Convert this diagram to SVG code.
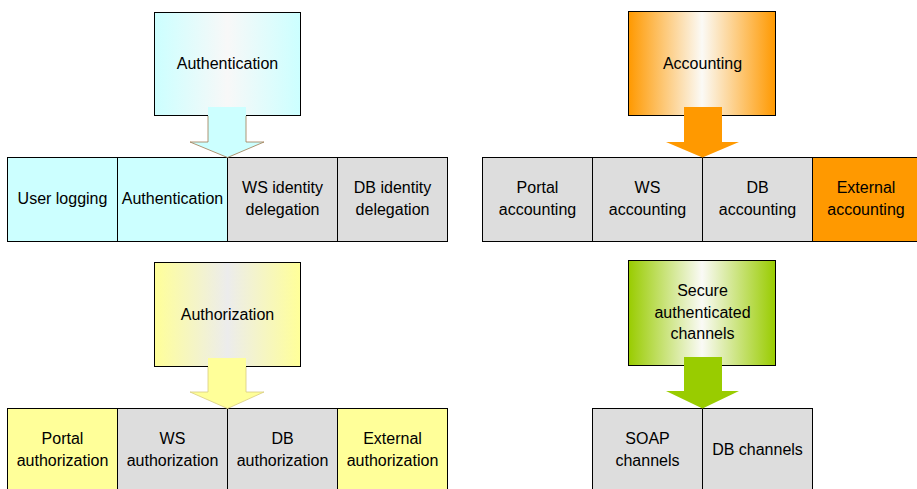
<svg xmlns="http://www.w3.org/2000/svg" width="917" height="489" viewBox="0 0 917 489">
  <defs>
    <linearGradient id="gCyan" x1="0" y1="0" x2="1" y2="0">
      <stop offset="0" stop-color="#ccffff"/>
      <stop offset="0.5" stop-color="#f8f8f8"/>
      <stop offset="1" stop-color="#ccffff"/>
    </linearGradient>
    <linearGradient id="gOrange" x1="0" y1="0" x2="1" y2="0">
      <stop offset="0" stop-color="#ff9900"/>
      <stop offset="0.5" stop-color="#fbfaf6"/>
      <stop offset="1" stop-color="#ff9900"/>
    </linearGradient>
    <linearGradient id="gYellow" x1="0" y1="0" x2="1" y2="0">
      <stop offset="0" stop-color="#ffff99"/>
      <stop offset="0.5" stop-color="#ececec"/>
      <stop offset="1" stop-color="#ffff99"/>
    </linearGradient>
    <linearGradient id="gGreen" x1="0" y1="0" x2="1" y2="0">
      <stop offset="0" stop-color="#99cc00"/>
      <stop offset="0.5" stop-color="#fafaf6"/>
      <stop offset="1" stop-color="#99cc00"/>
    </linearGradient>
  </defs>
  <style>
    text { font-family: "Liberation Sans", Arial, sans-serif; font-size: 16px; fill: #000; text-anchor: middle; }
    .box { stroke: #000; stroke-width: 1; }
    .cell { stroke: #000; stroke-width: 1; }
    .grey { fill: #dddddd; }
    .cyan { fill: #ccffff; }
    .orange { fill: #ff9900; }
    .yellow { fill: #ffff99; }
  </style>
  <rect width="917" height="489" fill="#ffffff"/>

  <!-- Authentication block -->
  <g id="authentication">
    <rect class="box" x="154.5" y="12.5" width="146" height="103" fill="url(#gCyan)"/>
    <text x="227.5" y="69">Authentication</text>
  </g>
  <g id="authentication-row">
    <rect class="cell cyan" x="7.5" y="157.5" width="110" height="84"/>
    <rect class="cell cyan" x="117.5" y="157.5" width="110" height="84"/>
    <rect class="cell grey" x="227.5" y="157.5" width="110" height="84"/>
    <rect class="cell grey" x="337.5" y="157.5" width="110" height="84"/>
    <text x="62.5" y="204">User logging</text>
    <text x="172.5" y="204">Authentication</text>
    <text x="282.5" y="193">WS identity</text>
    <text x="282.5" y="215">delegation</text>
    <text x="392.5" y="193">DB identity</text>
    <text x="392.5" y="215">delegation</text>
  </g>

  <!-- Accounting block -->
  <g id="accounting">
    <rect class="box" x="628.5" y="11.5" width="147" height="104" fill="url(#gOrange)"/>
    <text x="702.5" y="69">Accounting</text>
  </g>
  <g id="accounting-row">
    <rect class="cell grey" x="482.5" y="157.5" width="110" height="84"/>
    <rect class="cell grey" x="592.5" y="157.5" width="110" height="84"/>
    <rect class="cell grey" x="702.5" y="157.5" width="110" height="84"/>
    <rect class="cell orange" x="812.5" y="157.5" width="110" height="84"/>
    <text x="537.5" y="193">Portal</text>
    <text x="537.5" y="215">accounting</text>
    <text x="647.5" y="193">WS</text>
    <text x="647.5" y="215">accounting</text>
    <text x="757.5" y="193">DB</text>
    <text x="757.5" y="215">accounting</text>
    <text x="866" y="193">External</text>
    <text x="866" y="215">accounting</text>
  </g>

  <!-- Authorization block -->
  <g id="authorization">
    <rect class="box" x="154.5" y="262.5" width="146" height="104" fill="url(#gYellow)"/>
    <text x="227.5" y="320">Authorization</text>
  </g>
  <g id="authorization-row">
    <rect class="cell yellow" x="7.5" y="408.5" width="110" height="90"/>
    <rect class="cell grey" x="117.5" y="408.5" width="110" height="90"/>
    <rect class="cell grey" x="227.5" y="408.5" width="110" height="90"/>
    <rect class="cell yellow" x="337.5" y="408.5" width="110" height="90"/>
    <text x="62.5" y="444">Portal</text>
    <text x="62.5" y="466">authorization</text>
    <text x="172.5" y="444">WS</text>
    <text x="172.5" y="466">authorization</text>
    <text x="282.5" y="444">DB</text>
    <text x="282.5" y="466">authorization</text>
    <text x="392.5" y="444">External</text>
    <text x="392.5" y="466">authorization</text>
  </g>

  <!-- Secure channels block -->
  <g id="secure-channels">
    <rect class="box" x="628.5" y="260.5" width="147" height="105" fill="url(#gGreen)"/>
    <text x="702.5" y="296">Secure</text>
    <text x="702.5" y="318">authenticated</text>
    <text x="702.5" y="339">channels</text>
  </g>
  <g id="secure-channels-row">
    <rect class="cell grey" x="592.5" y="408.5" width="110" height="90"/>
    <rect class="cell grey" x="702.5" y="408.5" width="110" height="90"/>
    <text x="647.5" y="444">SOAP</text>
    <text x="647.5" y="466">channels</text>
    <text x="757.5" y="455">DB channels</text>
  </g>

  <!-- Block arrows from each heading to its row -->
  <g id="connectors">
    <polygon points="208,107 246,107 246,142 264,142 227.5,157.5 190,142 208,142" fill="#ccffff"/>
    <polyline points="208,116 208,142 190,142 227.5,157.5 264,142 246,142 246,116" fill="none" stroke="#a07a50" stroke-width="0.8"/>

    <polygon points="684,107 722,107 722,142 739,142 702.5,157.5 666,142 684,142" fill="#ff9900"/>

    <polygon points="208,358 246,358 246,392 264,392 227.5,408.5 190,392 208,392" fill="#ffff99"/>
    <polyline points="208,367 208,392 190,392 227.5,408.5 264,392 246,392 246,367" fill="none" stroke="#d8cc80" stroke-width="0.8"/>

    <polygon points="684,357 722,357 722,391 739,391 702.5,408.5 666,391 684,391" fill="#99cc00"/>
  </g>
</svg>
